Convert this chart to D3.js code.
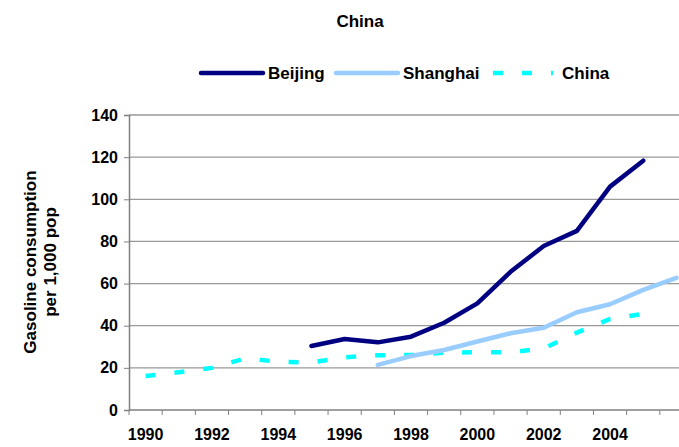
<!DOCTYPE html>
<html>
<head>
<meta charset="utf-8">
<script src="https://cdn.jsdelivr.net/npm/d3@7"></script>
<style>
  body { margin: 0; background: #fff; }
  text { font-family: "Liberation Sans", Arial, sans-serif; font-weight: bold; fill: #000; }
</style>
</head>
<body>
<div id="chart"></div>
<script>
// data
const years = d3.range(1990, 2007);
const yearLabels = [1990, 1992, 1994, 1996, 1998, 2000, 2002, 2004];
const yTicks = [0, 20, 40, 60, 80, 100, 120, 140];

const beijingYears = [1995, 1996, 1997, 1998, 1999, 2000, 2001, 2002, 2003, 2004, 2005];
const beijing = [30.4, 33.7, 32.1, 34.8, 41.4, 50.6, 65.6, 77.8, 85, 106, 118.3];

const shanghaiYears = [1997, 1998, 1999, 2000, 2001, 2002, 2003, 2004, 2005, 2006];
const shanghai = [21.4, 25.6, 28.5, 32.5, 36.4, 39, 46.4, 50.2, 57, 62.7];

const chinaYears = [1990, 1991, 1992, 1993, 1994, 1995, 1996, 1997, 1998, 1999, 2000, 2001, 2002, 2003, 2004, 2005];
const china = [16.1, 17.9, 20, 24.5, 22.9, 22.6, 25, 26, 26.1, 27.2, 27.4, 27.4, 29.2, 36.7, 43.2, 45.6];

const W = 679, H = 447;
const margin = { left: 129, top: 115, bottom: 37 };
const plotRight = 693;

const svg = d3.select("#chart").append("svg")
    .attr("width", W).attr("height", H);

const x = d3.scaleBand().domain(years).range([margin.left, plotRight]);
const y = d3.scaleLinear().domain([0, 140]).range([H - margin.bottom, margin.top]);

// gridlines
svg.append("g").selectAll("line")
    .data(yTicks.slice(1))
    .enter().append("line")
    .attr("x1", margin.left).attr("x2", W)
    .attr("y1", d => y(d)).attr("y2", d => y(d))
    .attr("stroke", "#999").attr("stroke-width", 1.3);

// y axis
const yAxis = svg.append("g")
    .attr("transform", "translate(" + margin.left + ",0)")
    .call(d3.axisLeft(y).tickValues(yTicks).tickSize(5).tickPadding(6));
yAxis.selectAll("text").style("font-size", "16px");

// x axis
const xAxis = svg.append("g")
    .attr("transform", "translate(0," + y(0) + ")")
    .call(d3.axisBottom(x).tickValues(yearLabels).tickSize(0).tickPadding(19));
xAxis.selectAll("text").style("font-size", "16px");
xAxis.select(".domain").attr("d", "M" + margin.left + ",0H" + W);
// category boundary ticks
xAxis.selectAll(".bt")
    .data(years)
    .enter().append("line")
    .attr("class", "bt")
    .attr("x1", d => x(d)).attr("x2", d => x(d))
    .attr("y1", 0).attr("y2", 5)
    .attr("stroke", "#808080");

svg.selectAll(".domain").attr("stroke", "#808080").attr("stroke-width", 1.5);
yAxis.selectAll(".tick line").attr("stroke", "#808080");

const cx = d => x(d) + x.bandwidth() / 2;

const line = (yrs) => d3.line()
    .x((d, i) => cx(yrs[i]))
    .y(d => y(d));

const plot = svg.append("g");

plot.append("path")
    .datum(china)
    .attr("d", line(chinaYears))
    .attr("fill", "none").attr("stroke", "#00ffff")
    .attr("stroke-width", 4.5).attr("stroke-dasharray", "10,19");

plot.append("path")
    .datum(shanghai)
    .attr("d", line(shanghaiYears))
    .attr("fill", "none").attr("stroke", "#99ccff")
    .attr("stroke-width", 4.5).attr("stroke-linecap", "round").attr("stroke-linejoin", "round");

plot.append("path")
    .datum(beijing)
    .attr("d", line(beijingYears))
    .attr("fill", "none").attr("stroke", "#000080")
    .attr("stroke-width", 4.5).attr("stroke-linecap", "round").attr("stroke-linejoin", "round");

// title
svg.append("text")
    .attr("x", 360).attr("y", 27)
    .attr("text-anchor", "middle")
    .style("font-size", "17px")
    .text("China");

// y title
const yt = svg.append("text")
    .attr("transform", "translate(36,262) rotate(-90)")
    .attr("text-anchor", "middle")
    .style("font-size", "17px");
yt.append("tspan").attr("x", 0).attr("dy", 0).text("Gasoline consumption");
yt.append("tspan").attr("x", 0).attr("dy", 20).text("per 1,000 pop");

// legend
const legend = [
  { name: "Beijing", color: "#000080", dash: null, x: 201 },
  { name: "Shanghai", color: "#99ccff", dash: null, x: 336 },
  { name: "China", color: "#00ffff", dash: "10,19", x: 493 }
];
const lg = svg.append("g").selectAll("g")
    .data(legend).enter().append("g")
    .attr("transform", d => "translate(" + d.x + ",73)");
lg.append("line")
    .attr("x1", 0).attr("x2", d => d.dash ? 60 : 62)
    .attr("stroke", d => d.color).attr("stroke-width", 4.5)
    .attr("stroke-linecap", d => d.dash ? "butt" : "round")
    .attr("stroke-dasharray", d => d.dash);
lg.append("text")
    .attr("x", d => d.dash ? 69 : 67).attr("y", 6)
    .style("font-size", "17px")
    .text(d => d.name);
</script>
</body>
</html>
